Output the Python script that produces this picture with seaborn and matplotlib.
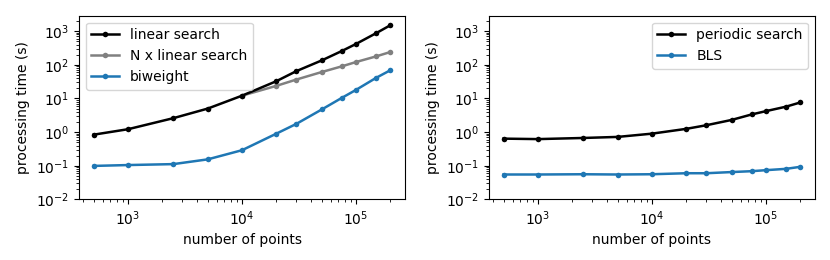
import pandas as pd
import matplotlib
matplotlib.use('Agg')
import matplotlib.pyplot as plt
import seaborn as sns

# number of points used in each benchmark
n_points = [500, 1000, 2500, 5000, 10000, 20000, 30000, 50000, 75000, 100000, 150000, 200000]

# left panel: detrending timings (s)
linear_search = [0.84, 1.22, 2.6, 5.0, 12.1, 32.6, 65, 135, 257, 417, 870, 1500]
n_linear_points = [10000, 20000, 30000, 50000, 75000, 100000, 150000, 200000]
n_linear_search = [12.1, 23.7, 36.5, 61, 90, 121, 178, 240]
biweight = [0.099, 0.105, 0.112, 0.155, 0.29, 0.90, 1.76, 4.7, 10.4, 18, 41, 69]

# right panel: period search timings (s)
periodic_search = [0.64, 0.62, 0.67, 0.72, 0.90, 1.25, 1.6, 2.3, 3.35, 4.2, 5.7, 7.6]
bls = [0.055, 0.055, 0.056, 0.055, 0.056, 0.060, 0.060, 0.065, 0.069, 0.074, 0.081, 0.093]

fig, (ax1, ax2) = plt.subplots(1, 2, figsize=(8.3, 2.6), dpi=100)
fig.subplots_adjust(left=0.095, right=0.982, top=0.94, bottom=0.233, wspace=0.256)

line_kw = dict(marker='o', markersize=4, markeredgewidth=0, linewidth=1.8)

sns.lineplot(x=n_points, y=linear_search, ax=ax1, color='black', label='linear search', zorder=3, **line_kw)
sns.lineplot(x=n_linear_points, y=n_linear_search, ax=ax1, color='gray', label='N x linear search', zorder=2, **line_kw)
sns.lineplot(x=n_points, y=biweight, ax=ax1, color='#1f77b4', label='biweight', zorder=2, **line_kw)

sns.lineplot(x=n_points, y=periodic_search, ax=ax2, color='black', label='periodic search', **line_kw)
sns.lineplot(x=n_points, y=bls, ax=ax2, color='#1f77b4', label='BLS', **line_kw)

for ax in (ax1, ax2):
    ax.set_xscale('log')
    ax.set_yscale('log')
    ax.set_ylim(1e-2, 2900)
    ax.set_xlabel('number of points')
    ax.set_ylabel('processing time (s)')

ax1.legend(loc='upper left')
ax2.legend(loc='upper right')

plt.savefig('out.png')
